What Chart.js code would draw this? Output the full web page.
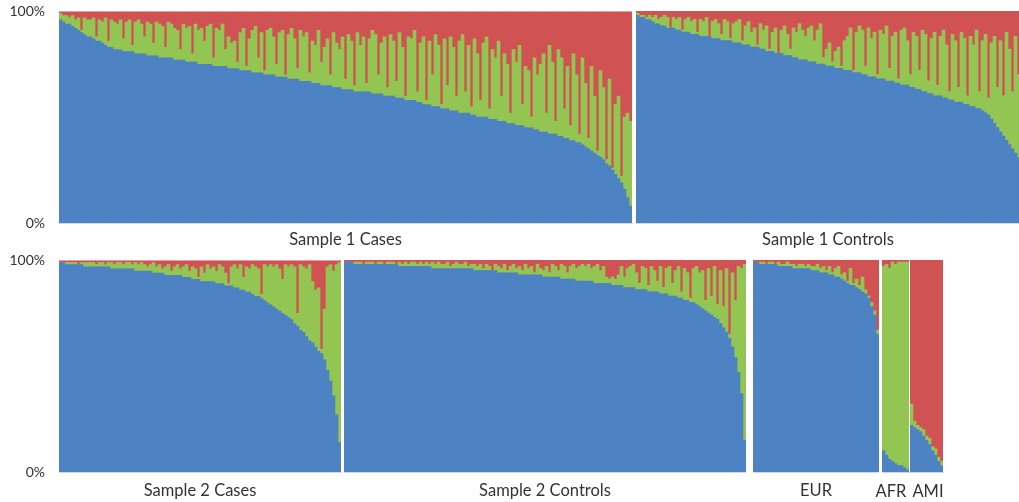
<!DOCTYPE html>
<html>
<head>
<meta charset="utf-8">
<script src="https://cdn.jsdelivr.net/npm/chart.js@4.4.1/dist/chart.umd.min.js"></script>
<style>
  body { margin: 0; background: #fff; width: 1019px; height: 502px; overflow: hidden; position: relative; }
  canvas { position: absolute; }
  .lbl { position: absolute; width: 60px; text-align: center; font: 16.5px Lato, sans-serif; line-height: 20px; color: #333; }
</style>
</head>
<body>
<canvas id="s1cases"></canvas>
<canvas id="s1ctrl"></canvas>
<canvas id="s2cases"></canvas>
<canvas id="s2ctrl"></canvas>
<canvas id="refEur"></canvas>
<canvas id="refAfr"></canvas>
<canvas id="refAmi"></canvas>
<!-- the AFR / AMI strips are narrower than their labels, so the labels sit outside the canvas -->
<div class="lbl" style="left: 861px; top: 481px;">AFR</div>
<div class="lbl" style="left: 898px; top: 481px;">AMI</div>
<script>
// ancestry share per individual (%), sorted by EUR; AFR is what is left over
const s1CasesEur = [
  96,95,94,94,93,92,91,90,89,88, 88,87,86,86,85,84,83,83,82,82,
  82,81,81,81,81,80,80,80,80,79, 79,79,79,78,78,78,78,78,77,77,
  77,77,76,76,76,76,75,75,75,75, 75,74,74,74,74,74,73,73,73,73,
  72,72,72,72,71,71,71,71,70,70, 70,70,69,69,69,69,68,68,68,68,
  67,67,67,67,66,66,66,65,65,65, 65,64,64,64,63,63,63,63,62,62,
  62,62,62,62,61,61,61,61,60,60,60, 60,59,59,59,58,58,58,58,57,57,
  56,56,56,55,55,55,54,54,54,53, 53,53,52,52,52,52,51,51,50,50,
  50,50,49,49,49,48,48,48,47,47, 47,46,46,46,45,45,45,44,44,43,
  43,43,42,42,42,41,41,40,40,39, 39,38,38,37,36,35,34,33,32,31,
  30,28,27,25,23,21,19,16,12,8
];
const s1CasesAmi = [
  1,2,2,3,2,4,3,9,3,4, 4,3,12,4,5,3,14,4,5,6,
  4,13,5,4,16,5,4,6,12,5, 6,15,5,6,7,17,5,6,8,9,
  18,6,8,7,20,6,9,8,14,7, 6,22,8,9,6,18,12,15,14,24,
  10,8,26,13,9,7,22,10,28,9, 8,12,25,10,9,30,11,8,13,27,
  9,12,10,29,14,16,9,24,17,13, 30,10,15,18,12,32,11,14,35,10,
  16,12,34,13,9,11,30,15,12,36,11, 14,33,10,17,40,12,13,9,38,15,
  12,42,14,30,11,16,44,13,35,12, 17,40,14,11,38,16,45,13,20,42,
  15,12,46,18,22,14,40,20,25,48, 18,24,16,44,26,28,50,22,30,25,
  20,48,16,24,52,18,22,46,26,54, 20,30,58,22,34,60,26,40,66,28,
  36,70,32,74,44,40,78,50,48,52
];

const s1CtrlEur = [
  98,97,97,96,96,95,94,94,93,93, 92,92,92,91,91,90,90,90,89,89,
  89,88,88,88,88,87,87,87,86,86, 86,86,85,85,85,84,84,84,83,83,
  83,82,82,81,81,81,80,80,80,79, 79,79,78,78,77,77,77,76,76,76,
  75,75,75,74,74,74,73,73,73,72, 72,72,71,71,71,70,70,69,69,69,
  68,68,68,67,67,67,66,66,65,65, 65,64,64,63,63,62,62,61,61,60,
  60,60,59,59,58,58,57,57,57,56, 56,55,55,54,54,53,52,51,49,47,
  45,43,41,39,37,35,33,31
];
const s1CtrlAmi = [
  1,2,2,3,2,3,2,4,3,2, 3,8,3,4,3,9,4,3,5,4,
  10,4,5,3,12,5,4,6,11,4, 5,13,6,5,4,14,7,5,10,8,
  16,6,9,7,18,10,8,20,9,7, 11,18,8,10,6,9,12,8,7,14,
  9,6,22,18,15,24,19,17,26,14, 12,8,28,10,7,9,26,8,13,10,
  30,9,11,7,27,12,10,32,9,8, 14,30,10,12,28,9,11,33,13,10,
  35,12,9,16,38,11,14,36,10,13, 40,12,16,9,38,14,11,41,15,12,
  36,14,40,10,18,38,12,30
];

const s2CasesEur = [
  99,99,98,98,98,98,98,98,97,97, 97,97,97,97,97,97,97,96,96,96,
  96,96,96,96,96,95,95,95,95,95, 95,94,94,94,94,93,93,93,93,93,
  93,92,92,92,91,91,91,90,90,90, 90,90,89,89,89,88,88,88,87,87,
  86,86,85,85,84,83,83,82,81,80, 79,78,77,76,75,74,73,72,70,69,
  67,66,64,62,61,59,57,56,53,48, 43,36,27,14
];
const s2CasesAmi = [
  1,1,1,1,1,1,2,1,1,1, 1,1,2,1,1,2,1,1,2,1,
  1,2,1,1,2,1,2,1,2,3, 2,1,3,2,4,3,2,5,3,2,
  4,3,2,5,3,4,8,3,6,2, 4,3,5,2,3,6,11,3,2,4,
  2,8,3,4,2,3,4,16,2,3, 2,3,2,4,9,2,3,2,3,25,
  2,3,4,2,10,14,13,42,23,3, 2,5,2,1
];

const s2CtrlEur = [
  99,99,99,98,98,98,98,98,98,98, 98,98,98,98,98,98,98,98,97,97,
  97,97,97,97,97,97,97,97,97,96, 96,96,96,96,96,96,96,96,96,96,
  96,96,96,95,95,95,95,95,95,95, 95,94,94,94,94,94,94,94,93,93,
  93,93,93,93,93,93,92,92,92,92, 92,92,91,91,91,91,91,90,90,90,
  90,90,90,89,89,89,89,89,89,88, 88,88,88,87,87,87,87,86,86,86,
  86,85,85,85,85,84,84,84,83,83, 83,82,82,81,81,80,80,79,78,77,
  76,75,74,73,72,70,68,66,63,59, 54,47,37,15
];
const s2CtrlAmi = [
  1,1,2,1,1,1,2,1,1,1, 2,1,1,2,1,1,1,2,1,2,
  1,2,1,1,2,1,2,1,2,1, 2,1,2,2,1,3,2,1,2,2,
  1,3,2,2,3,2,4,2,3,5, 2,3,4,2,5,3,2,4,3,5,
  2,4,3,6,2,4,5,3,6,2, 3,5,2,3,6,3,2,4,3,2,
  3,2,4,3,2,5,3,8,9,8, 9,7,3,8,4,3,2,6,11,3,
  4,12,3,5,10,3,13,4,3,11, 5,3,15,4,6,18,4,3,6,5,
  19,4,17,3,21,5,22,4,35,6, 19,3,4,2
];

const refEurEur = [
  99,99,98,98,98,98,98,98,97,97, 97,97,97,96,96,96,96,96,96,95,
  95,95,94,94,94,93,93,92,92,91, 90,89,88,88,87,86,85,84,82,78,
  74,65
];
const refEurAmi = [
  1,1,1,1,2,1,1,2,1,2, 2,1,2,2,3,2,2,3,2,3,
  3,2,4,3,5,3,6,4,3,7, 6,10,4,11,9,12,8,14,17,20,
  24,33
];

const refAfrEur = [10,8,6,5,4,3,3,2,1];
const refAfrAmi = [3,2,4,1,2,1,1,1,1];

const refAmiEur = [22,21,20,19,17,15,13,10,8,5,3];
const refAmiAmi = [68,76,78,79,80,83,84,88,89,93,95];

const COL_EUR = '#4d82c3';
const COL_AFR = '#93c553';
const COL_AMI = '#d05252';
const TEXT = '#333333';

function panel(id, eur, ami, title, b) {
  const cv = document.getElementById(id);
  cv.width = b.w;
  cv.height = b.h || 252;
  cv.style.left = b.x + 'px';
  cv.style.top = b.y + 'px';

  const afr = eur.map((v, i) => 100 - v - ami[i]);
  const labels = eur.map((_, i) => i + 1);
  // plot widths are chosen as 3px per individual so bars sit on whole pixels
  const ds = (label, data, color) => ({
    label, data, backgroundColor: color, borderWidth: 0,
    barPercentage: 1, categoryPercentage: 1
  });

  const yScale = {
    stacked: true, min: 0, max: 100,
    display: !!b.yAxis,
    grid: { display: false, drawTicks: false },
    border: { display: false },
    ticks: {
      stepSize: 100, padding: 14, color: TEXT,
      font: { family: 'Lato', size: 14 },
      callback: v => v + '%'
    }
  };
  if (b.yAxis) yScale.afterFit = s => { s.width = 59; };

  new Chart(cv.getContext('2d'), {
    type: 'bar',
    data: {
      labels,
      datasets: [ds('EUR', eur, COL_EUR), ds('AFR', afr, COL_AFR), ds('AMI', ami, COL_AMI)]
    },
    options: {
      responsive: false,
      animation: false,
      layout: { padding: { top: b.top, left: b.padL || 0, right: b.padR || 0, bottom: 0 } },
      plugins: { legend: { display: false }, tooltip: { enabled: false } },
      scales: {
        x: {
          stacked: true,
          grid: { display: false, drawTicks: false },
          ticks: { display: false },
          border: { display: true, color: '#d3d9e1' },
          title: {
            display: !!title, text: title, color: TEXT,
            font: { family: 'Lato', size: 16.5 },
            padding: { top: 0, bottom: b.tpad }
          },
          afterFit: s => { s.height = b.axisH; }
        },
        y: yScale
      }
    }
  });
}

// top row; panels with a y axis need ~22px for the tick label, so their canvas starts higher
panel('s1cases', s1CasesEur, s1CasesAmi, 'Sample 1 Cases', { x: 0, y: -11, w: 634, h: 263, padR: 2, top: 0, axisH: 29, tpad: 2, yAxis: true });
panel('s1ctrl', s1CtrlEur, s1CtrlAmi, 'Sample 1 Controls', { x: 636, y: 0, w: 384, top: 11, axisH: 29, tpad: 2 });
// bottom row
panel('s2cases', s2CasesEur, s2CasesAmi, 'Sample 2 Cases', { x: 0, y: 238, w: 342, h: 263, padR: 1, top: 0, axisH: 29, tpad: 0, yAxis: true });
panel('s2ctrl', s2CtrlEur, s2CtrlAmi, 'Sample 2 Controls', { x: 344, y: 250, w: 402, top: 10, axisH: 30, tpad: 1 });
panel('refEur', refEurEur, refEurAmi, 'EUR', { x: 753, y: 250, w: 126, top: 10, axisH: 30, tpad: 1 });
panel('refAfr', refAfrEur, refAfrAmi, '', { x: 870, y: 250, w: 50, padL: 12, padR: 11, top: 10, axisH: 30, tpad: 1 });
panel('refAmi', refAmiEur, refAmiAmi, '', { x: 905, y: 250, w: 45, padL: 5, padR: 7, top: 10, axisH: 30, tpad: 1 });
</script>
</body>
</html>
